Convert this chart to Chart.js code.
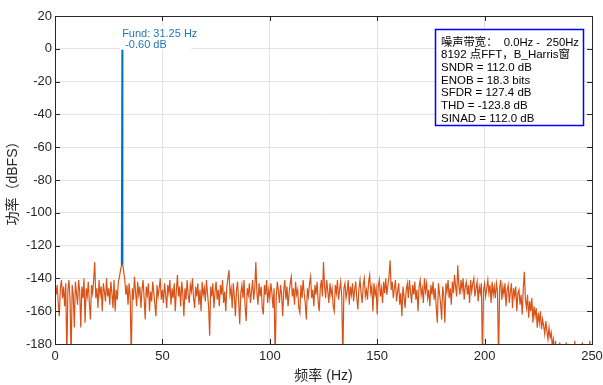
<!DOCTYPE html>
<html>
<head>
<meta charset="utf-8">
<script src="https://cdn.jsdelivr.net/npm/chart.js"></script>
<style>
  html, body { margin: 0; padding: 0; background: #fff; }
  #wrap { width: 603px; height: 385px; position: relative; }
</style>
</head>
<body>
<div id="wrap"><canvas id="fftChart"></canvas></div>
<script>
// Espectro FFT: un valor cada 0.5 Hz, de 0 a 250 Hz
const binStep = 0.5;

const noise0to25 = [
  -142, -150, -144, -155, -163, -146, -141, -152, -145, -157,
  -143, -190, -147, -141, -153, -190, -144, -150, -170, -142,
  -149, -156, -141, -148, -170, -145, -152, -140, -167, -146,
  -151, -142, -155, -165, -144, -149, -141, -130, -152, -146,
  -158, -141, -150, -145, -160, -143, -148, -154, -140, -151
];
const noise25to50 = [
  -146, -156, -142, -149, -158, -141, -160, -147, -153, -142,
  -139, -135, -132, -131, -136, -141, -150, -144, -156, -143,
  -151, -190, -146, -153, -139, -148, -157, -142, -150, -145,
  -158, -147, -141, -152, -165, -145, -150, -143, -160, -148,
  -154, -142, -149, -156, -163, -144, -151, -146, -140, -153
];
const noise50to75 = [
  -147, -155, -143, -150, -158, -144, -149, -141, -156, -146,
  -152, -143, -160, -147, -138, -151, -145, -157, -142, -149,
  -163, -146, -153, -141, -150, -155, -144, -148, -140, -152,
  -158, -145, -151, -143, -156, -147, -160, -142, -150, -146,
  -154, -141, -149, -157, -175, -145, -151, -143, -158, -148
];
const noise75to100 = [
  -142, -153, -147, -157, -144, -150, -141, -155, -148, -160,
  -145, -140, -135, -150, -146, -158, -143, -151, -163, -147,
  -142, -154, -168, -149, -144, -152, -141, -157, -166, -146,
  -150, -143, -155, -148, -141, -153, -146, -130, -149, -156,
  -143, -151, -145, -158, -162, -144, -150, -141, -155, -147
];
const noise100to125 = [
  -152, -143, -149, -158, -146, -190, -151, -142, -148, -155,
  -144, -150, -163, -147, -141, -153, -145, -157, -149, -143,
  -139, -151, -146, -156, -142, -150, -147, -158, -161, -144,
  -152, -141, -149, -155, -165, -146, -151, -143, -139, -152,
  -147, -157, -144, -150, -142, -154, -160, -146, -141, -151
];
const noise125to150 = [
  -130, -145, -152, -141, -148, -155, -143, -150, -146, -157,
  -160, -144, -149, -141, -153, -147, -142, -151, -190, -146,
  -143, -152, -148, -141, -156, -145, -150, -143, -154, -147,
  -142, -152, -159, -146, -141, -149, -155, -144, -140, -151,
  -147, -153, -142, -138, -149, -145, -160, -143, -150, -146
];
const noise150to175 = [
  -162, -145, -141, -151, -146, -155, -142, -149, -140, -150,
  -144, -139, -129, -147, -142, -152, -146, -141, -154, -148,
  -143, -156, -149, -163, -145, -151, -158, -147, -143, -152,
  -141, -148, -155, -144, -150, -142, -153, -147, -160, -145,
  -141, -150, -146, -155, -140, -148, -143, -152, -147, -157
];
const noise175to200 = [
  -144, -150, -142, -153, -146, -158, -167, -143, -149, -155,
  -165, -145, -150, -167, -143, -148, -141, -152, -146, -156,
  -142, -149, -138, -145, -151, -132, -144, -150, -141, -147,
  -140, -153, -145, -142, -150, -144, -155, -141, -148, -143,
  -140, -151, -146, -142, -154, -145, -149, -143, -190, -147
];
const noise200to225 = [
  -143, -151, -146, -141, -149, -144, -155, -142, -150, -145,
  -152, -143, -148, -190, -146, -141, -153, -145, -150, -143,
  -157, -147, -144, -155, -148, -143, -158, -146, -151, -145,
  -160, -149, -147, -156, -150, -162, -146, -136, -153, -158,
  -150, -164, -154, -160, -152, -167, -157, -163, -158, -170
];
const noise225to250 = [
  -161, -167, -160, -171, -165, -169, -174, -166, -172, -177,
  -170, -176, -173, -181, -177, -186, -178, -188, -185, -192,
  -179, -191, -195, -188, -193, -197, -179, -192, -196, -190,
  -194, -199, -193, -188, -178, -194, -198, -192, -196, -190,
  -193, -179, -195, -197, -191, -194, -189, -196, -178, -192,
  -195
];

// Componente fundamental (trazo azul)
const fundFreqs = [31.0, 31.25, 31.5];
const fundLevels = [-132, -0.60, -131];

const xTicks = [0, 50, 100, 150, 200, 250];
const yTicks = [20, 0, -20, -40, -60, -80, -100, -120, -140, -160, -180];

const infoLines = [
  '噪声带宽：  0.0Hz -  250Hz',
  '8192 点FFT，B_Harris窗',
  'SNDR = 112.0 dB',
  'ENOB = 18.3 bits',
  'SFDR = 127.4 dB',
  'THD = -123.8 dB',
  'SINAD = 112.0 dB'
];

const spectrum = [].concat(noise0to25, noise25to50, noise50to75, noise75to100, noise100to125,
  noise125to150, noise150to175, noise175to200, noise200to225, noise225to250);

const FONT = "'Liberation Sans', Arial, 'Noto Sans CJK SC', sans-serif";
const AXIS_COLOR = '#262626';

// Marco, marcas hacia dentro, etiqueta de la fundamental y cuadro de resultados
const decorPlugin = {
  id: 'decor',
  beforeDatasetsDraw(chart) {
    const ctx = chart.ctx;
    const xs = chart.scales.x, ys = chart.scales.y;
    const px = xs.getPixelForValue(fundFreqs[1]);
    const py = ys.getPixelForValue(fundLevels[1]);
    ctx.save();
    ctx.fillStyle = '#fff';
    ctx.fillRect(px - 2, py - 24, 71, 23.5);
    ctx.restore();
  },
  afterDraw(chart) {
    const ctx = chart.ctx;
    const a = chart.chartArea;
    const xs = chart.scales.x, ys = chart.scales.y;
    ctx.save();
    ctx.strokeStyle = AXIS_COLOR;
    ctx.lineWidth = 1;
    ctx.strokeRect(Math.round(a.left) + 0.5, Math.round(a.top) + 0.5,
      Math.round(a.right - a.left), Math.round(a.bottom - a.top));
    ctx.beginPath();
    xTicks.forEach(v => {
      const x = Math.round(xs.getPixelForValue(v)) + 0.5;
      ctx.moveTo(x, a.bottom); ctx.lineTo(x, a.bottom - 5);
      ctx.moveTo(x, a.top); ctx.lineTo(x, a.top + 5);
    });
    yTicks.forEach(v => {
      const y = Math.round(ys.getPixelForValue(v)) + 0.5;
      ctx.moveTo(a.left, y); ctx.lineTo(a.left + 5, y);
      ctx.moveTo(a.right, y); ctx.lineTo(a.right - 5, y);
    });
    ctx.stroke();

    // etiqueta de la fundamental
    const px = xs.getPixelForValue(fundFreqs[1]);
    const py = ys.getPixelForValue(fundLevels[1]);
    ctx.fillStyle = '#1f76b8';
    ctx.font = '11px ' + FONT;
    ctx.textBaseline = 'middle';
    ctx.fillText('Fund: ' + fundFreqs[1].toFixed(2) + ' Hz', px, py - 16);
    ctx.fillText(' ' + fundLevels[1].toFixed(2) + ' dB', px, py - 5);

    // cuadro de resultados
    const bx = 435.5, by = 29.5, bw = 148, bh = 96;
    ctx.fillStyle = '#fff';
    ctx.fillRect(bx, by, bw, bh);
    ctx.strokeStyle = '#0000ff';
    ctx.lineWidth = 1.5;
    ctx.strokeRect(bx, by, bw, bh);
    ctx.fillStyle = '#000';
    ctx.font = '11.5px ' + FONT;
    infoLines.forEach((t, i) => ctx.fillText(t, 441, 42.5 + i * 12.7, 138));
    ctx.restore();
  }
};

new Chart(document.getElementById('fftChart'), {
  type: 'line',
  data: {
    datasets: [{
      label: 'Fund',
      data: fundFreqs.map((f, i) => ({ x: f, y: fundLevels[i] })),
      borderColor: '#0072BD',
      borderWidth: 1.5,
      pointRadius: 0,
      order: 0
    }, {
      label: 'Espectro',
      data: spectrum.map((v, i) => ({ x: i * binStep, y: v })),
      borderColor: '#D95319',
      borderWidth: 1.2,
      pointRadius: 0,
      order: 1
    }]
  },
  options: {
    responsive: true,
    maintainAspectRatio: false,
    animation: false,
    layout: { padding: { top: 16, right: 11, left: 0, bottom: 0 } },
    plugins: {
      legend: { display: false },
      tooltip: { enabled: false }
    },
    scales: {
      x: {
        type: 'linear',
        min: 0,
        max: 250,
        afterBuildTicks: s => { s.ticks = xTicks.map(v => ({ value: v })); },
        afterFit: s => { s.height = 41; s.paddingRight = 0; s.paddingLeft = 0; },
        grid: { color: '#e3e3e3', drawTicks: false },
        border: { display: false },
        ticks: { color: AXIS_COLOR, font: { family: FONT, size: 13 }, padding: 5, maxRotation: 0 },
        title: { display: true, text: '频率 (Hz)', color: AXIS_COLOR, font: { family: FONT, size: 14 }, padding: { top: 2, bottom: 0 } }
      },
      y: {
        min: -180,
        max: 20,
        afterBuildTicks: s => { s.ticks = yTicks.map(v => ({ value: v })); },
        afterFit: s => { s.width = 55; s.paddingTop = 0; s.paddingBottom = 0; },
        grid: { color: '#e3e3e3', drawTicks: false },
        border: { display: false },
        ticks: { color: AXIS_COLOR, font: { family: FONT, size: 13 }, padding: 3 },
        title: { display: true, text: '功率（dBFS）', color: AXIS_COLOR, font: { family: FONT, size: 14 }, padding: { top: 5, bottom: 0 } }
      }
    }
  },
  plugins: [decorPlugin]
});
</script>
</body>
</html>
